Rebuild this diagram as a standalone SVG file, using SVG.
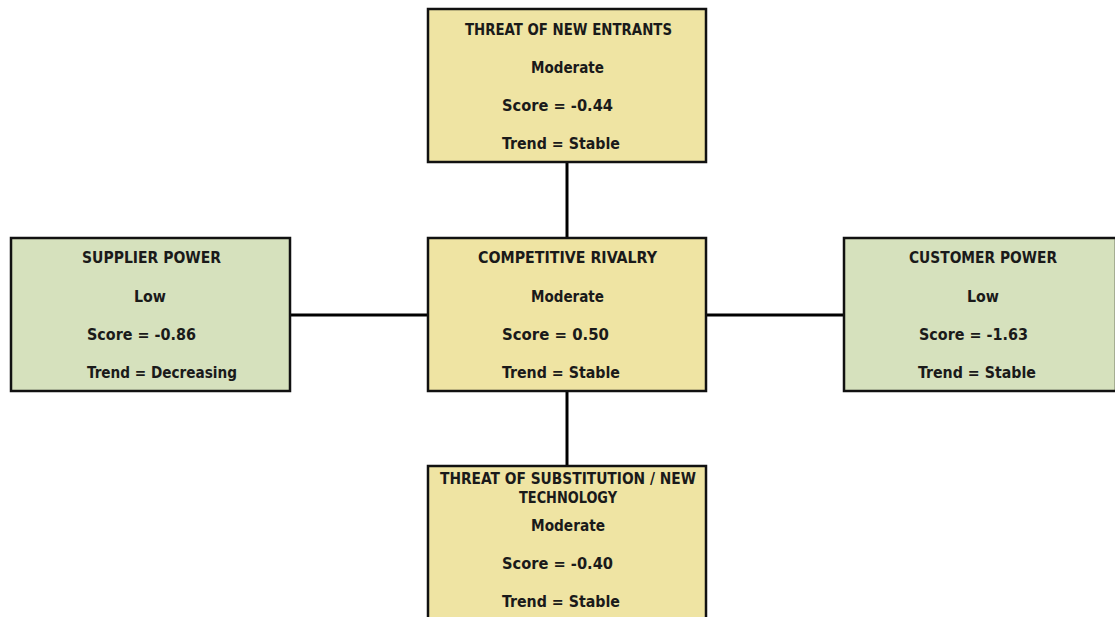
<svg xmlns="http://www.w3.org/2000/svg" width="1115" height="617" viewBox="0 0 1115 617">
<style>
.y{fill:#EFE4A3;stroke:#111;stroke-width:2.5}
.g{fill:#D6E1BD;stroke:#111;stroke-width:2.5}
text{font-family:"DejaVu Sans Condensed","DejaVu Sans",Verdana,sans-serif;font-weight:bold;font-size:15px;fill:#1a1a1a}
.c{stroke:#000;stroke-width:3;fill:none}
</style>
<rect width="1115" height="617" fill="#fff"/>
<g id="connectors">
<line class="c" x1="567" y1="162" x2="567" y2="238"/>
<line class="c" x1="567" y1="391" x2="567" y2="466"/>
<line class="c" x1="290" y1="315" x2="428" y2="315"/>
<line class="c" x1="706" y1="315" x2="844" y2="315"/>
</g>
<g id="new-entrants">
<rect class="y" x="428" y="9" width="278" height="153"/>
<text x="465" y="35" textLength="207" lengthAdjust="spacingAndGlyphs">THREAT OF NEW ENTRANTS</text>
<text x="531" y="73" textLength="73" lengthAdjust="spacingAndGlyphs">Moderate</text>
<text x="502" y="111" textLength="111" lengthAdjust="spacingAndGlyphs">Score = -0.44</text>
<text x="502" y="149" textLength="118" lengthAdjust="spacingAndGlyphs">Trend = Stable</text>
</g>
<g id="supplier-power">
<rect class="g" x="11" y="238" width="279" height="153"/>
<text x="82" y="263" textLength="139" lengthAdjust="spacingAndGlyphs">SUPPLIER POWER</text>
<text x="134" y="302" textLength="32" lengthAdjust="spacingAndGlyphs">Low</text>
<text x="87" y="340" textLength="109" lengthAdjust="spacingAndGlyphs">Score = -0.86</text>
<text x="87" y="378" textLength="150" lengthAdjust="spacingAndGlyphs">Trend = Decreasing</text>
</g>
<g id="competitive-rivalry">
<rect class="y" x="428" y="238" width="278" height="153"/>
<text x="478" y="263" textLength="179" lengthAdjust="spacingAndGlyphs">COMPETITIVE RIVALRY</text>
<text x="531" y="302" textLength="73" lengthAdjust="spacingAndGlyphs">Moderate</text>
<text x="502" y="340" textLength="107" lengthAdjust="spacingAndGlyphs">Score = 0.50</text>
<text x="502" y="378" textLength="118" lengthAdjust="spacingAndGlyphs">Trend = Stable</text>
</g>
<g id="customer-power">
<rect class="g" x="844" y="238" width="272" height="153"/>
<text x="909" y="263" textLength="148" lengthAdjust="spacingAndGlyphs">CUSTOMER POWER</text>
<text x="967" y="302" textLength="32" lengthAdjust="spacingAndGlyphs">Low</text>
<text x="919" y="340" textLength="109" lengthAdjust="spacingAndGlyphs">Score = -1.63</text>
<text x="918" y="378" textLength="118" lengthAdjust="spacingAndGlyphs">Trend = Stable</text>
</g>
<g id="substitution">
<rect class="y" x="428" y="466" width="278" height="160"/>
<text x="440" y="484" textLength="256" lengthAdjust="spacingAndGlyphs">THREAT OF SUBSTITUTION / NEW</text>
<text x="519" y="503" textLength="98" lengthAdjust="spacingAndGlyphs">TECHNOLOGY</text>
<text x="531" y="531" textLength="74" lengthAdjust="spacingAndGlyphs">Moderate</text>
<text x="502" y="569" textLength="111" lengthAdjust="spacingAndGlyphs">Score = -0.40</text>
<text x="502" y="607" textLength="118" lengthAdjust="spacingAndGlyphs">Trend = Stable</text>
</g>
</svg>
